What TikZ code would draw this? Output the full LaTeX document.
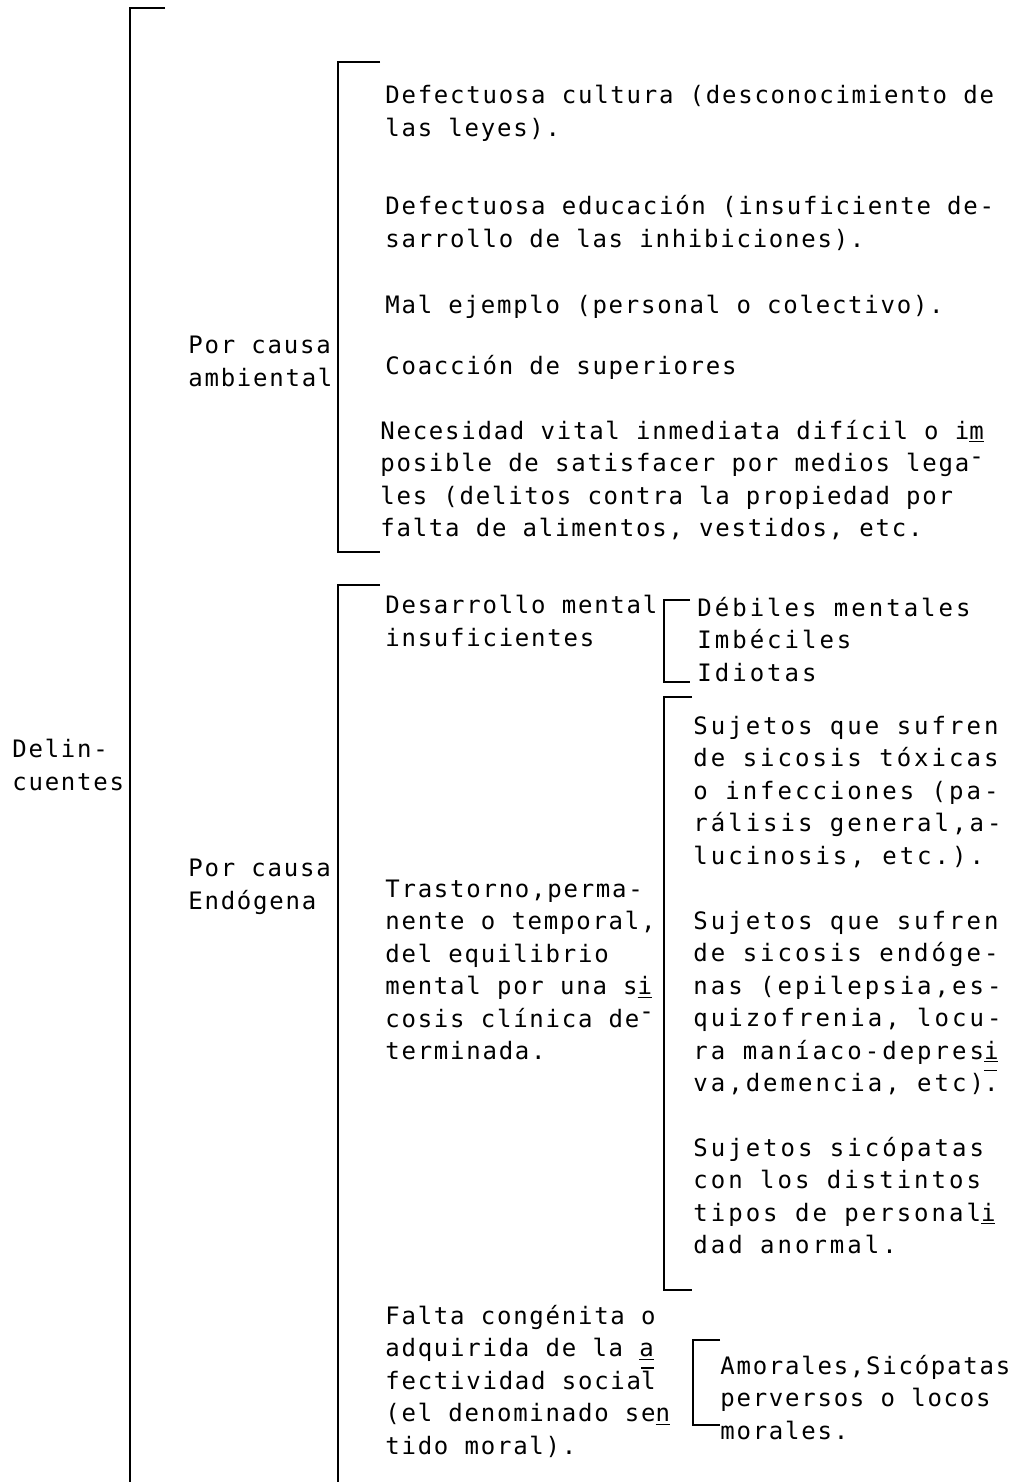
\documentclass[tikz,border=0pt]{standalone}
\usepackage{fontspec}
\newfontfamily\tw{DejaVu Sans Mono}[LetterSpace=7.3]
\newfontfamily\twb{DejaVu Sans Mono}[LetterSpace=12.5]
\newcommand\uln[1]{\underline{#1}}
\newcommand\hyb{\raisebox{0.3em}{-}}
\newcommand\ovl[1]{\rlap{\raisebox{0.85em}{\rule{0.55em}{0.6pt}}}#1}
\tikzset{
  txt/.style={anchor=base west, inner sep=0pt, align=left,
    font=\tw\fontsize{12pt}{16.25pt}\selectfont},
  txtb/.style={txt, font=\twb\fontsize{12pt}{16.25pt}\selectfont},
  br/.style={line width=1.3pt}
}
\begin{document}
\begin{tikzpicture}[x=0.5pt,y=-0.5pt]
\useasboundingbox (0,0) rectangle (1011,1482);
% brackets
\draw[br] (165,8) -- (130,8) -- (130,1482);
\draw[br] (380,62) -- (338,62) -- (338,552) -- (380,552);
\draw[br] (380,585) -- (338,585) -- (338,1482);
\draw[br] (690,600) -- (664,600) -- (664,682) -- (690,682);
\draw[br] (692,697) -- (664,697) -- (664,1290) -- (692,1290);
\draw[br] (720,1340) -- (693,1340) -- (693,1425) -- (720,1425);
% texts (y = baseline of the last line)
\node[txt] (del) at (12,790) {Delin-\\cuentes};
\node[txt] (amb) at (188,386) {Por causa\\ambiental};
\node[txt] (endo) at (188,909) {Por causa\\Endógena};
\node[txt] (a1) at (385,136.5) {Defectuosa cultura (desconocimiento de\\las leyes).};
\node[txt] (a2) at (385,247.5) {Defectuosa educación (insuficiente de-\\sarrollo de las inhibiciones).};
\node[txt] (a3) at (385,313) {Mal ejemplo (personal o colectivo).};
\node[txt] (a4) at (385,374) {Coacción de superiores};
\node[txt] (a5) at (380,536.5) {Necesidad vital inmediata difícil o i\uln{m}\\posible de satisfacer por medios lega\hyb\\les (delitos contra la propiedad por\\falta de alimentos, vestidos, etc.};
\node[txt] (e1) at (385,646) {Desarrollo mental\\insuficientes};
\node[txtb] (e1a) at (697,681) {Débiles mentales\\Imbéciles\\Idiotas};
\node[txt] (e2) at (385,1059.5) {Trastorno,perma-\\nente o temporal,\\del equilibrio\\mental por una s\uln{i}\\cosis clínica de\hyb\\terminada.};
\node[txtb] (e2a) at (693,864) {Sujetos que sufren\\de sicosis tóxicas\\o infecciones (pa-\\rálisis general,a-\\lucinosis, etc.).};
\node[txtb] (e2b) at (693,1091.5) {Sujetos que sufren\\de sicosis endóge-\\nas (epilepsia,es-\\quizofrenia, locu-\\ra maníaco-depres\uln{i}\\va,demencia, etc)\ovl{.}};
\node[txtb] (e2c) at (693,1253.5) {Sujetos sicópatas\\con los distintos\\tipos de personal\uln{i}\\dad anormal.};
\node[txt] (e3) at (385,1454) {Falta congénita o\\adquirida de la \uln{a}\\fectividad socia\ovl{l}\\(el denominado se\uln{n}\\tido moral).};
\node[txt] (e3a) at (720,1439) {Amorales,Sicópatas\\perversos o locos\\morales.};
\end{tikzpicture}
\end{document}
